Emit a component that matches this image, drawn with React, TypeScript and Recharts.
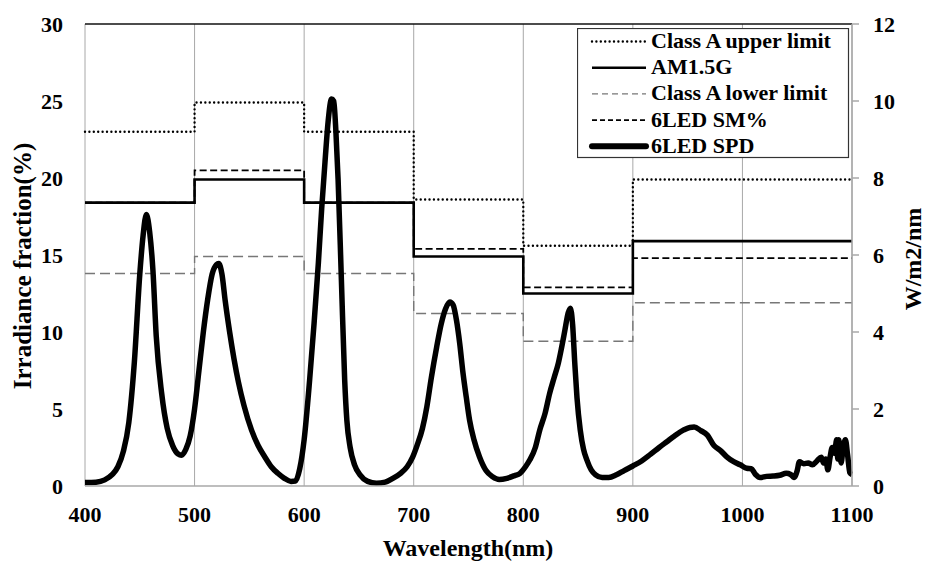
import { LineChart, Line, XAxis, YAxis, CartesianGrid, ReferenceLine, Legend } from "recharts"

// band edges (nm) and irradiance fraction (%) for each band; last value repeats to close the step at 1100
const bandEdges = [400, 500, 600, 700, 800, 900, 1100]
const classAUpper = [23.0, 24.9, 23.0, 18.6, 15.6, 19.9, 19.9]
const am15g = [18.4, 19.9, 18.4, 14.9, 12.5, 15.9, 15.9]
const classALower = [13.8, 14.9, 13.8, 11.2, 9.4, 11.9, 11.9]
const sm6led = [18.4, 20.5, 18.4, 15.4, 12.9, 14.8, 14.8]

// 6LED spectral power distribution, W/m2/nm (right axis)
const spdWavelengths = [
  400, 410, 418, 425, 430, 435, 440, 445, 450, 453, 456, 459, 462, 465, 470, 475, 480, 485, 488, 492,
  496, 500, 504, 508, 512, 516, 520, 522, 525, 528, 532, 536, 540, 545, 552, 558, 564, 570, 576, 582,
  588, 592, 596, 600, 605, 609, 613, 616, 619, 622, 625, 627, 629, 631, 634, 637, 639, 642, 646, 651,
  658, 666, 674, 681, 688, 694, 699, 703, 708, 712, 716, 721, 725, 729, 733, 736, 739, 742, 745, 748,
  751, 755, 760, 766, 772, 778, 785, 792, 797, 802, 806, 811, 815, 820, 824, 828, 832, 835, 838, 841,
  843, 845, 847, 849, 852, 855, 858, 862, 866, 872, 878, 885, 892, 900, 908, 916, 924, 931, 938, 946,
  952, 956, 962, 968, 974, 980, 986, 992, 998, 1004, 1008, 1012, 1016, 1022, 1028, 1034, 1040, 1044, 1047, 1050,
  1052, 1056, 1060, 1064, 1068, 1072, 1074, 1076, 1078, 1080, 1082, 1084, 1086, 1087, 1088, 1090, 1092, 1094, 1096, 1098,
  1100,
]
const spdValues = [
  0.09, 0.1, 0.16, 0.3, 0.5, 0.9, 1.65, 3.2, 5.5, 6.5, 7.05, 6.6, 5.6, 3.9, 2.4, 1.5, 1.05, 0.83, 0.8, 0.95,
  1.3, 2.0, 3.0, 4.0, 4.85, 5.5, 5.75, 5.78, 5.5, 4.8, 4.0, 3.3, 2.7, 2.1, 1.45, 1.05, 0.76, 0.5, 0.33, 0.2,
  0.12, 0.13, 0.45, 1.2, 2.75, 4.2, 5.8, 7.2, 8.4, 9.5, 10.05, 10.0, 9.2, 7.95, 5.35, 2.75, 1.7, 1.0, 0.55, 0.29,
  0.12, 0.07, 0.1, 0.2, 0.33, 0.5, 0.75, 1.05, 1.5, 2.06, 2.8, 3.62, 4.2, 4.6, 4.78, 4.7, 4.31, 3.7, 2.93, 2.3,
  1.71, 1.2, 0.76, 0.4, 0.24, 0.17, 0.2, 0.27, 0.33, 0.5, 0.68, 1.0, 1.45, 1.9, 2.4, 2.8, 3.19, 3.6, 4.05, 4.5,
  4.62, 4.2, 3.19, 2.3, 1.45, 0.95, 0.68, 0.42, 0.29, 0.22, 0.22, 0.29, 0.4, 0.52, 0.65, 0.82, 1.0, 1.15, 1.3, 1.45,
  1.52, 1.53, 1.44, 1.32, 1.05, 0.92, 0.75, 0.63, 0.55, 0.46, 0.45, 0.3, 0.22, 0.25, 0.26, 0.28, 0.33, 0.3, 0.22, 0.4,
  0.63, 0.58, 0.6, 0.55, 0.65, 0.75, 0.6, 0.7, 0.42, 0.75, 1.0, 0.85, 1.2, 0.7, 1.2, 0.6, 1.0, 1.2, 0.8, 0.35,
  0.3,
]

const xTicks = [400, 500, 600, 700, 800, 900, 1000, 1100]
const leftTicks = [0, 5, 10, 15, 20, 25, 30]
const rightTicks = [0, 2, 4, 6, 8, 10, 12]

const FONT = "'Liberation Serif', 'Times New Roman', serif"
const tickStyle = { fill: "#000", fontSize: 22, fontWeight: "bold", fontFamily: FONT }

const toSteps = (values: number[]) => bandEdges.map((wl, i) => ({ wl, v: values[i] }))
const spdData = spdWavelengths.map((wl, i) => ({ wl, v: spdValues[i] }))

type LegendItem = { name: string; stroke: string; width: number; dash?: string; cap?: "round" | "butt" }

const legendItems: LegendItem[] = [
  { name: "Class A upper limit", stroke: "#000", width: 2.4, dash: "0 4.4", cap: "round" },
  { name: "AM1.5G", stroke: "#000", width: 2.6 },
  { name: "Class A lower limit", stroke: "#777", width: 1.4, dash: "6 4" },
  { name: "6LED SM%", stroke: "#000", width: 1.8, dash: "5 3" },
  { name: "6LED SPD", stroke: "#000", width: 6, cap: "round" },
]

function BoxLegend() {
  return (
    <svg width={273} height={131} style={{ display: "block" }}>
      <rect x={0.5} y={0.5} width={271} height={129} fill="#fff" stroke="#333" strokeWidth={1.2} />
      {legendItems.map((item, i) => {
        const base = 20 + i * 26.2
        return (
          <g key={item.name}>
            <line
              x1={15}
              x2={69}
              y1={base - 6.5}
              y2={base - 6.5}
              stroke={item.stroke}
              strokeWidth={item.width}
              strokeDasharray={item.dash}
              strokeLinecap={item.cap ?? "butt"}
            />
            <text x={74} y={base} fontFamily={FONT} fontWeight="bold" fontSize={22} fill="#000">
              {item.name}
            </text>
          </g>
        )
      })}
    </svg>
  )
}

export default function App() {
  return (
    <div style={{ position: "absolute", left: 0, top: 0, width: 926, height: 561, background: "#fff" }}>
      <LineChart width={926} height={561} margin={{ top: 24, right: 0, bottom: 0, left: 0 }}>
        <CartesianGrid horizontal={false} stroke="#a8a8a8" strokeWidth={1} />
        <XAxis
          dataKey="wl"
          type="number"
          domain={[400, 1100]}
          ticks={xTicks}
          interval={0}
          height={75}
          allowDuplicatedCategory={false}
          axisLine={{ stroke: "#a8a8a8", strokeWidth: 1.5 }}
          tickLine={false}
          tickSize={0}
          tickMargin={20}
          tick={tickStyle}
          label={{
            content: () => (
              <text x={468} y={556} textAnchor="middle" fontFamily={FONT} fontWeight="bold" fontSize={24} fill="#000">
                Wavelength(nm)
              </text>
            ),
          }}
        />
        <YAxis
          yAxisId="left"
          orientation="left"
          domain={[0, 30]}
          ticks={leftTicks}
          interval={0}
          width={85}
          axisLine={false}
          tickLine={false}
          tickSize={0}
          tickMargin={22}
          tick={tickStyle}
          label={{
            content: () => (
              <text
                x={31}
                y={266}
                textAnchor="middle"
                transform="rotate(-90, 31, 266)"
                fontFamily={FONT}
                fontWeight="bold"
                fontSize={25}
                fill="#000"
              >
                Irradiance fraction(%)
              </text>
            ),
          }}
        />
        <YAxis
          yAxisId="right"
          orientation="right"
          domain={[0, 12]}
          ticks={rightTicks}
          interval={0}
          width={74}
          axisLine={{ stroke: "#a8a8a8", strokeWidth: 1.5 }}
          tickLine={{ stroke: "#a8a8a8", strokeWidth: 1.5 }}
          tickSize={7}
          tickMargin={14}
          tick={tickStyle}
          label={{
            content: () => (
              <text
                x={921}
                y={259}
                textAnchor="middle"
                transform="rotate(-90, 921, 259)"
                fontFamily={FONT}
                fontWeight="bold"
                fontSize={24}
                fill="#000"
              >
                W/m2/nm
              </text>
            ),
          }}
        />
        <ReferenceLine yAxisId="left" y={30} stroke="#111" strokeWidth={1.5} />
        <Line
          yAxisId="left"
          data={toSteps(classAUpper)}
          dataKey="v"
          type="stepAfter"
          stroke="#000"
          strokeWidth={2.4}
          strokeDasharray="0 4.4"
          strokeLinecap="round"
          dot={false}
          activeDot={false}
          isAnimationActive={false}
        />
        <Line
          yAxisId="left"
          data={toSteps(am15g)}
          dataKey="v"
          type="stepAfter"
          stroke="#000"
          strokeWidth={2.6}
          dot={false}
          activeDot={false}
          isAnimationActive={false}
        />
        <Line
          yAxisId="left"
          data={toSteps(classALower)}
          dataKey="v"
          type="stepAfter"
          stroke="#777"
          strokeWidth={1.4}
          strokeDasharray="10 5"
          dot={false}
          activeDot={false}
          isAnimationActive={false}
        />
        <Line
          yAxisId="left"
          data={toSteps(sm6led)}
          dataKey="v"
          type="stepAfter"
          stroke="#000"
          strokeWidth={1.8}
          strokeDasharray="7 3.5"
          dot={false}
          activeDot={false}
          isAnimationActive={false}
        />
        <Line
          yAxisId="right"
          data={spdData}
          dataKey="v"
          type="monotone"
          stroke="#000"
          strokeWidth={5.5}
          strokeLinejoin="round"
          dot={false}
          activeDot={false}
          isAnimationActive={false}
        />
        <Legend
          layout="horizontal"
          verticalAlign="middle"
          wrapperStyle={{ left: 577, top: 28, width: 273, height: 131 }}
          content={() => <BoxLegend />}
        />
      </LineChart>
    </div>
  )
}
